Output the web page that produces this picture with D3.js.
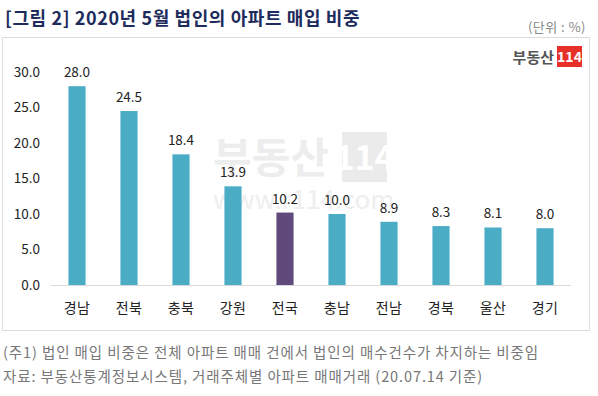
<!DOCTYPE html>
<html>
<head>
<meta charset="utf-8">
<script src="https://cdn.jsdelivr.net/npm/d3@7"></script>
<style>
  body { margin: 0; background: #fff; }
  text { font-family: "Noto Sans CJK KR", "Noto Sans", sans-serif; }
</style>
</head>
<body>
<div id="chart"></div>
<script>
const regions = ["경남", "전북", "충북", "강원", "전국", "충남", "전남", "경북", "울산", "경기"];
const shares = [28.0, 24.5, 18.4, 13.9, 10.2, 10.0, 8.9, 8.3, 8.1, 8.0];
const yTicks = [0, 5, 10, 15, 20, 25, 30];
const notes = [
  "(주1) 법인 매입 비중은 전체 아파트 매매 건에서 법인의 매수건수가 차지하는 비중임",
  "자료: 부동산통계정보시스템, 거래주체별 아파트 매매거래 (20.07.14 기준)"
];

const W = 598, H = 396;
const svg = d3.select("#chart").append("svg")
  .attr("width", W).attr("height", H);

// title
svg.append("text")
  .attr("x", 5).attr("y", 25)
  .attr("font-size", 18).attr("font-weight", "bold")
  .attr("letter-spacing", 0.6)
  .attr("fill", "#1d2c5c")
  .text("[그림 2] 2020년 5월 법인의 아파트 매입 비중");

svg.append("text")
  .attr("x", 586).attr("y", 32)
  .attr("text-anchor", "end")
  .attr("font-size", 13).attr("letter-spacing", 0.5)
  .attr("fill", "#888")
  .text("(단위 : %)");

// chart frame
svg.append("rect")
  .attr("x", 2.5).attr("y", 37.5)
  .attr("width", 587).attr("height", 293)
  .attr("fill", "#fff")
  .attr("stroke", "#dcdcdc");

// watermark
const wm = svg.append("g");
wm.append("text")
  .attr("x", 213).attr("y", 173)
  .attr("font-size", 42).attr("font-weight", "bold")
  .attr("fill", "#ededed")
  .text("부동산");
wm.append("rect")
  .attr("x", 342).attr("y", 132)
  .attr("width", 45).attr("height", 50)
  .attr("fill", "#ebebeb");
wm.append("text")
  .attr("x", 364.5).attr("y", 170)
  .attr("text-anchor", "middle")
  .attr("font-size", 34).attr("font-weight", "bold")
  .attr("fill", "#fff")
  .text("114");
wm.append("text")
  .attr("x", 213).attr("y", 209)
  .attr("font-size", 26)
  .attr("fill", "#eeeeee")
  .text("www.r114.com");

// logo
const logo = svg.append("g");
logo.append("text")
  .attr("x", 554).attr("y", 63)
  .attr("text-anchor", "end")
  .attr("font-size", 15).attr("font-weight", "bold")
  .attr("fill", "#555")
  .text("부동산");
logo.append("rect")
  .attr("x", 557).attr("y", 46)
  .attr("width", 25).attr("height", 21)
  .attr("fill", "#e8302a");
logo.append("text")
  .attr("x", 569.5).attr("y", 62)
  .attr("text-anchor", "middle")
  .attr("font-size", 14).attr("font-weight", "bold")
  .attr("fill", "#fff")
  .text("114");

const x = d3.scaleBand()
  .domain(regions)
  .range([51, 571])
  .paddingInner(0.67)
  .paddingOuter(0.335);

const y = d3.scaleLinear()
  .domain([0, 30])
  .range([285, 72]);

// y axis labels
const yAxis = d3.axisLeft(y)
  .tickValues(yTicks)
  .tickFormat(d3.format(".1f"))
  .tickSize(0)
  .tickPadding(0);
svg.append("g")
  .attr("transform", "translate(40,0)")
  .call(yAxis)
  .call(g => g.select(".domain").remove())
  .call(g => g.selectAll("text")
    .attr("font-size", 13.5)
    .attr("fill", "#222"));

// baseline
svg.append("line")
  .attr("x1", 51).attr("x2", 571)
  .attr("y1", y(0) + 0.5).attr("y2", y(0) + 0.5)
  .attr("stroke", "#d9d9d9");

// bars
svg.selectAll(".bar")
  .data(shares)
  .enter().append("rect")
  .attr("class", "bar")
  .attr("x", (d, i) => x(regions[i]))
  .attr("y", d => y(d))
  .attr("width", x.bandwidth())
  .attr("height", d => y(0) - y(d))
  .attr("fill", (d, i) => regions[i] === "전국" ? "#604a7b" : "#4bacc6");

// value labels
svg.selectAll(".val")
  .data(shares)
  .enter().append("text")
  .attr("class", "val")
  .attr("x", (d, i) => x(regions[i]) + x.bandwidth() / 2)
  .attr("y", d => y(d) - 9)
  .attr("text-anchor", "middle")
  .attr("font-size", 13.5)
  .attr("fill", "#222")
  .text(d => d.toFixed(1));

// category axis
const xAxis = d3.axisBottom(x).tickSize(0).tickPadding(0);
svg.append("g")
  .attr("transform", `translate(0,${y(0) + 28})`)
  .call(xAxis)
  .call(g => g.select(".domain").remove())
  .call(g => g.selectAll("text")
    .attr("dy", 0)
    .attr("font-size", 14)
    .attr("letter-spacing", 0.5)
    .attr("fill", "#222"));

// footnotes
svg.selectAll(".note")
  .data(notes)
  .enter().append("text")
  .attr("class", "note")
  .attr("x", 3)
  .attr("y", (d, i) => 358 + i * 24)
  .attr("font-size", 14.5)
  .attr("letter-spacing", 0.9)
  .attr("fill", "#777")
  .text(d => d);
</script>
</body>
</html>
